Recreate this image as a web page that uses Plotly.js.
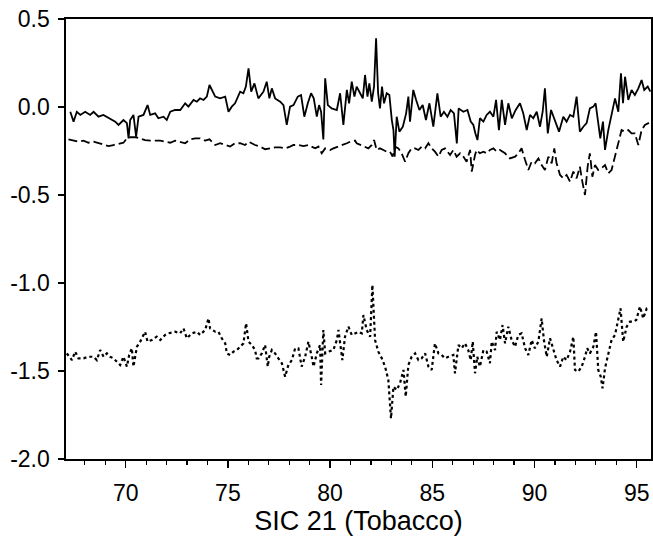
<!DOCTYPE html>
<html>
<head>
<meta charset="utf-8">
<script src="https://cdn.plot.ly/plotly-3.0.1.min.js"></script>
<style>
  html, body { margin: 0; padding: 0; background: #ffffff; }
  #chart { width: 653px; height: 548px; }
</style>
</head>
<body>
<div id="chart"></div>
<script>
// ---- Data ----
const solidYears = [67.29,67.45,67.61,67.78,68.02,68.26,68.43,68.67,68.91,69.24,69.49,69.65,69.89,70.06,70.14,70.22,70.38,70.51,70.63,70.87,71.07,71.20,71.44,71.60,71.85,72.01,72.18,72.42,72.67,72.91,73.07,73.32,73.48,73.64,73.81,73.97,74.10,74.38,74.62,74.87,75.03,75.19,75.35,75.60,75.76,75.88,76.01,76.14,76.30,76.49,76.74,76.90,77.03,77.15,77.31,77.56,77.72,77.88,78.04,78.21,78.42,78.58,78.74,78.91,79.07,79.20,79.35,79.46,79.56,79.67,79.76,79.89,80.08,80.33,80.49,80.65,80.82,80.93,81.06,81.19,81.30,81.47,81.60,81.71,81.83,81.92,82.04,82.15,82.25,82.35,82.44,82.54,82.64,82.77,82.90,83.02,83.10,83.16,83.26,83.39,83.56,83.72,83.83,83.91,84.07,84.21,84.37,84.53,84.69,84.86,85.05,85.25,85.41,85.57,85.74,85.90,86.06,86.20,86.29,86.52,86.72,86.88,87.01,87.11,87.21,87.33,87.50,87.66,87.82,87.99,88.12,88.26,88.40,88.56,88.72,88.89,89.08,89.29,89.45,89.62,89.78,89.94,90.11,90.27,90.40,90.51,90.65,90.81,91.00,91.20,91.41,91.57,91.74,91.90,92.06,92.22,92.39,92.55,92.71,92.88,92.99,93.12,93.22,93.35,93.45,93.61,93.78,93.94,94.10,94.23,94.33,94.43,94.59,94.75,94.91,95.08,95.24,95.37,95.54,95.67];
const solidValues = [-0.027,-0.083,-0.027,-0.045,-0.027,-0.045,-0.027,-0.055,-0.045,-0.064,-0.083,-0.102,-0.074,-0.092,-0.178,-0.074,-0.045,-0.169,-0.055,-0.045,0.011,-0.045,-0.036,-0.064,-0.055,-0.074,-0.027,-0.017,-0.017,0.021,0.002,0.040,0.030,0.049,0.040,0.059,0.125,0.059,0.049,0.059,-0.027,0.002,0.021,0.087,0.078,0.116,0.220,0.087,0.134,0.049,0.087,0.144,0.049,0.106,0.049,0.030,0.011,-0.102,0.002,0.011,0.059,0.068,-0.055,0.021,0.078,0.049,-0.055,0.011,-0.027,-0.184,0.163,0.011,-0.008,-0.017,0.078,-0.102,0.097,0.021,0.144,0.059,0.116,0.078,0.049,0.182,0.059,0.134,0.030,0.116,0.390,0.078,-0.008,0.116,0.021,0.078,0.068,-0.074,-0.131,-0.282,-0.055,-0.140,-0.112,-0.036,0.059,-0.083,0.097,0.040,-0.017,0.011,-0.074,0.021,-0.112,0.078,-0.055,-0.027,-0.055,-0.017,-0.036,-0.207,-0.008,-0.027,-0.017,-0.083,-0.102,-0.150,-0.188,-0.064,-0.083,-0.045,-0.027,-0.055,0.040,-0.131,0.040,-0.102,0.021,-0.064,-0.017,0.021,-0.036,-0.131,-0.045,-0.064,-0.027,-0.112,-0.027,0.106,-0.150,-0.017,-0.083,-0.140,-0.055,-0.083,-0.045,-0.055,0.059,-0.140,-0.112,-0.092,-0.008,0.002,0.021,-0.112,-0.178,-0.083,-0.244,-0.131,-0.045,0.049,-0.027,0.192,0.021,0.172,0.040,0.097,0.068,0.106,0.153,0.097,0.116,0.087];

const dashedYears = [67.20,67.45,67.69,67.94,68.18,68.43,68.67,68.92,69.16,69.40,69.65,69.89,70.06,70.22,70.51,70.71,70.95,71.20,71.44,71.69,71.93,72.18,72.42,72.66,72.91,73.15,73.40,73.64,73.89,74.10,74.38,74.62,74.87,75.11,75.35,75.60,75.84,76.01,76.33,76.58,76.82,77.07,77.31,77.56,77.80,78.04,78.21,78.45,78.70,78.94,79.10,79.27,79.43,79.59,79.76,80.00,80.16,80.41,80.57,80.82,80.98,81.22,81.30,81.63,81.87,82.04,82.15,82.28,82.44,82.61,82.77,82.93,83.06,83.18,83.34,83.50,83.67,83.83,83.99,84.16,84.32,84.48,84.65,84.81,84.97,85.13,85.30,85.46,85.62,85.87,86.03,86.19,86.36,86.52,86.68,86.85,86.93,87.09,87.17,87.33,87.50,87.66,87.82,87.99,88.15,88.31,88.56,88.80,89.05,89.21,89.37,89.54,89.70,89.86,90.02,90.19,90.35,90.51,90.68,90.84,90.97,91.08,91.25,91.41,91.57,91.74,91.90,92.06,92.22,92.34,92.47,92.60,92.71,92.83,92.96,93.12,93.28,93.45,93.61,93.77,93.94,94.10,94.26,94.42,94.59,94.75,94.91,95.08,95.24,95.40,95.60];
const dashedValues = [-0.184,-0.191,-0.197,-0.191,-0.203,-0.197,-0.206,-0.216,-0.222,-0.216,-0.210,-0.203,-0.178,-0.172,-0.172,-0.178,-0.188,-0.191,-0.191,-0.191,-0.197,-0.203,-0.191,-0.197,-0.206,-0.184,-0.178,-0.178,-0.191,-0.184,-0.216,-0.206,-0.216,-0.225,-0.206,-0.206,-0.216,-0.197,-0.216,-0.225,-0.240,-0.235,-0.229,-0.229,-0.235,-0.225,-0.216,-0.216,-0.222,-0.216,-0.225,-0.235,-0.225,-0.263,-0.235,-0.244,-0.235,-0.225,-0.216,-0.206,-0.197,-0.191,-0.206,-0.225,-0.235,-0.216,-0.188,-0.244,-0.235,-0.244,-0.254,-0.254,-0.282,-0.225,-0.235,-0.263,-0.311,-0.263,-0.235,-0.235,-0.244,-0.225,-0.235,-0.206,-0.235,-0.254,-0.282,-0.244,-0.235,-0.273,-0.244,-0.282,-0.263,-0.282,-0.311,-0.244,-0.367,-0.273,-0.244,-0.263,-0.254,-0.263,-0.244,-0.235,-0.254,-0.244,-0.263,-0.292,-0.282,-0.263,-0.235,-0.301,-0.358,-0.311,-0.320,-0.292,-0.330,-0.358,-0.282,-0.320,-0.235,-0.320,-0.386,-0.405,-0.386,-0.424,-0.367,-0.405,-0.339,-0.424,-0.500,-0.339,-0.263,-0.396,-0.330,-0.358,-0.348,-0.330,-0.377,-0.358,-0.282,-0.206,-0.131,-0.140,-0.131,-0.150,-0.150,-0.216,-0.131,-0.102,-0.090];

const dottedYears = [67.12,67.37,67.53,67.69,67.94,68.18,68.43,68.59,68.75,68.92,69.08,69.24,69.40,69.57,69.73,69.89,70.06,70.17,70.30,70.38,70.55,70.71,70.95,71.07,71.28,71.52,71.69,71.93,72.09,72.42,72.66,72.83,72.99,73.24,73.48,73.64,73.89,74.05,74.13,74.38,74.54,74.70,74.87,74.95,75.11,75.27,75.44,75.60,75.76,75.89,76.01,76.17,76.33,76.41,76.50,76.66,76.82,76.95,77.02,77.15,77.31,77.47,77.64,77.80,77.96,78.13,78.29,78.45,78.61,78.78,78.94,79.10,79.19,79.35,79.51,79.56,79.67,79.76,79.92,80.16,80.33,80.41,80.49,80.60,80.73,80.90,81.06,81.22,81.39,81.55,81.63,81.79,81.96,82.07,82.20,82.36,82.53,82.69,82.85,82.98,83.10,83.26,83.42,83.59,83.70,83.83,83.99,84.16,84.32,84.48,84.65,84.81,84.97,85.13,85.30,85.46,85.62,85.79,86.03,86.11,86.28,86.44,86.60,86.76,86.88,86.98,87.09,87.20,87.33,87.50,87.66,87.82,87.91,88.07,88.15,88.31,88.44,88.56,88.72,88.88,89.05,89.21,89.37,89.54,89.70,89.86,90.02,90.19,90.35,90.46,90.60,90.76,90.92,91.08,91.25,91.41,91.57,91.74,91.90,91.98,92.14,92.31,92.47,92.58,92.71,92.88,93.01,93.12,93.24,93.33,93.45,93.61,93.77,93.94,94.10,94.21,94.34,94.51,94.67,94.83,94.98,95.16,95.32,95.49,95.65];
const dottedValues = [-1.400,-1.438,-1.390,-1.428,-1.428,-1.419,-1.419,-1.438,-1.381,-1.419,-1.400,-1.419,-1.428,-1.447,-1.466,-1.419,-1.475,-1.409,-1.371,-1.475,-1.362,-1.333,-1.277,-1.333,-1.324,-1.305,-1.324,-1.295,-1.286,-1.277,-1.286,-1.258,-1.314,-1.286,-1.277,-1.295,-1.267,-1.201,-1.258,-1.277,-1.277,-1.314,-1.343,-1.400,-1.409,-1.390,-1.381,-1.362,-1.343,-1.229,-1.333,-1.352,-1.381,-1.428,-1.428,-1.400,-1.352,-1.475,-1.419,-1.381,-1.400,-1.428,-1.456,-1.532,-1.466,-1.438,-1.371,-1.371,-1.475,-1.419,-1.333,-1.419,-1.475,-1.400,-1.352,-1.580,-1.267,-1.400,-1.390,-1.381,-1.324,-1.267,-1.343,-1.438,-1.305,-1.248,-1.295,-1.286,-1.277,-1.286,-1.182,-1.267,-1.305,-1.011,-1.324,-1.390,-1.428,-1.475,-1.551,-1.770,-1.589,-1.608,-1.570,-1.494,-1.646,-1.466,-1.419,-1.400,-1.438,-1.428,-1.400,-1.475,-1.494,-1.343,-1.400,-1.409,-1.428,-1.419,-1.409,-1.513,-1.352,-1.371,-1.343,-1.381,-1.438,-1.333,-1.513,-1.419,-1.475,-1.381,-1.390,-1.456,-1.333,-1.381,-1.277,-1.324,-1.239,-1.343,-1.248,-1.324,-1.362,-1.295,-1.286,-1.371,-1.409,-1.324,-1.371,-1.333,-1.201,-1.324,-1.419,-1.314,-1.381,-1.438,-1.475,-1.419,-1.438,-1.390,-1.305,-1.494,-1.504,-1.475,-1.419,-1.371,-1.400,-1.362,-1.277,-1.494,-1.532,-1.598,-1.484,-1.400,-1.324,-1.295,-1.210,-1.144,-1.333,-1.248,-1.220,-1.220,-1.210,-1.134,-1.201,-1.144,-1.140];

const xTickVals = [70, 75, 80, 85, 90, 95];
const xTickLabels = ['70', '75', '80', '85', '90', '95'];
const yTickVals = [0.5, 0.0, -0.5, -1.0, -1.5, -2.0];
const yTickLabels = ['0.5', '0.0', '-0.5', '-1.0', '-1.5', '-2.0'];
const xTitle = 'SIC 21 (Tobacco)';

// ---- Chart ----
const FONT = 'Liberation Sans, Arial, Helvetica, sans-serif';
const traces = [
  { x: solidYears, y: solidValues, type: 'scatter', mode: 'lines',
    line: { color: '#000000', width: 1.8 }, hoverinfo: 'skip' },
  { x: dashedYears, y: dashedValues, type: 'scatter', mode: 'lines',
    line: { color: '#000000', width: 1.8, dash: '9px,4px' }, hoverinfo: 'skip' },
  { x: dottedYears, y: dottedValues, type: 'scatter', mode: 'lines',
    line: { color: '#000000', width: 2.2, dash: '3px,3px' }, hoverinfo: 'skip' }
];

const layout = {
  width: 653, height: 548,
  margin: { l: 66, r: 2, t: 19, b: 89 },
  paper_bgcolor: '#ffffff', plot_bgcolor: '#ffffff',
  showlegend: false,
  font: { family: FONT, color: '#000000' },
  xaxis: {
    range: [67.08, 95.7],
    tickmode: 'array', tickvals: xTickVals, ticktext: xTickLabels,
    ticks: 'outside', ticklen: 7, tickwidth: 1.3, tickcolor: '#000000',
    ticklabelstandoff: 6,
    minor: { tickmode: 'linear', tick0: 67, dtick: 1, ticks: 'outside', ticklen: 4, tickwidth: 1.2, tickcolor: '#000000', showgrid: false },
    showline: true, mirror: true, linecolor: '#000000', linewidth: 1.6,
    showgrid: false, zeroline: false,
    tickfont: { family: FONT, size: 23, color: '#000000' },
    title: { text: xTitle, font: { family: FONT, size: 27, color: '#000000' }, standoff: 6 }
  },
  yaxis: {
    range: [-2.0, 0.5],
    tickmode: 'array', tickvals: yTickVals, ticktext: yTickLabels,
    ticks: 'outside', ticklen: 6, tickwidth: 1.3, tickcolor: '#000000',
    ticklabelstandoff: 4,
    showline: true, mirror: true, linecolor: '#000000', linewidth: 1.6,
    showgrid: false, zeroline: false,
    tickfont: { family: FONT, size: 23, color: '#000000' }
  }
};

Plotly.newPlot('chart', traces, layout, { staticPlot: true, displayModeBar: false });
</script>
</body>
</html>
